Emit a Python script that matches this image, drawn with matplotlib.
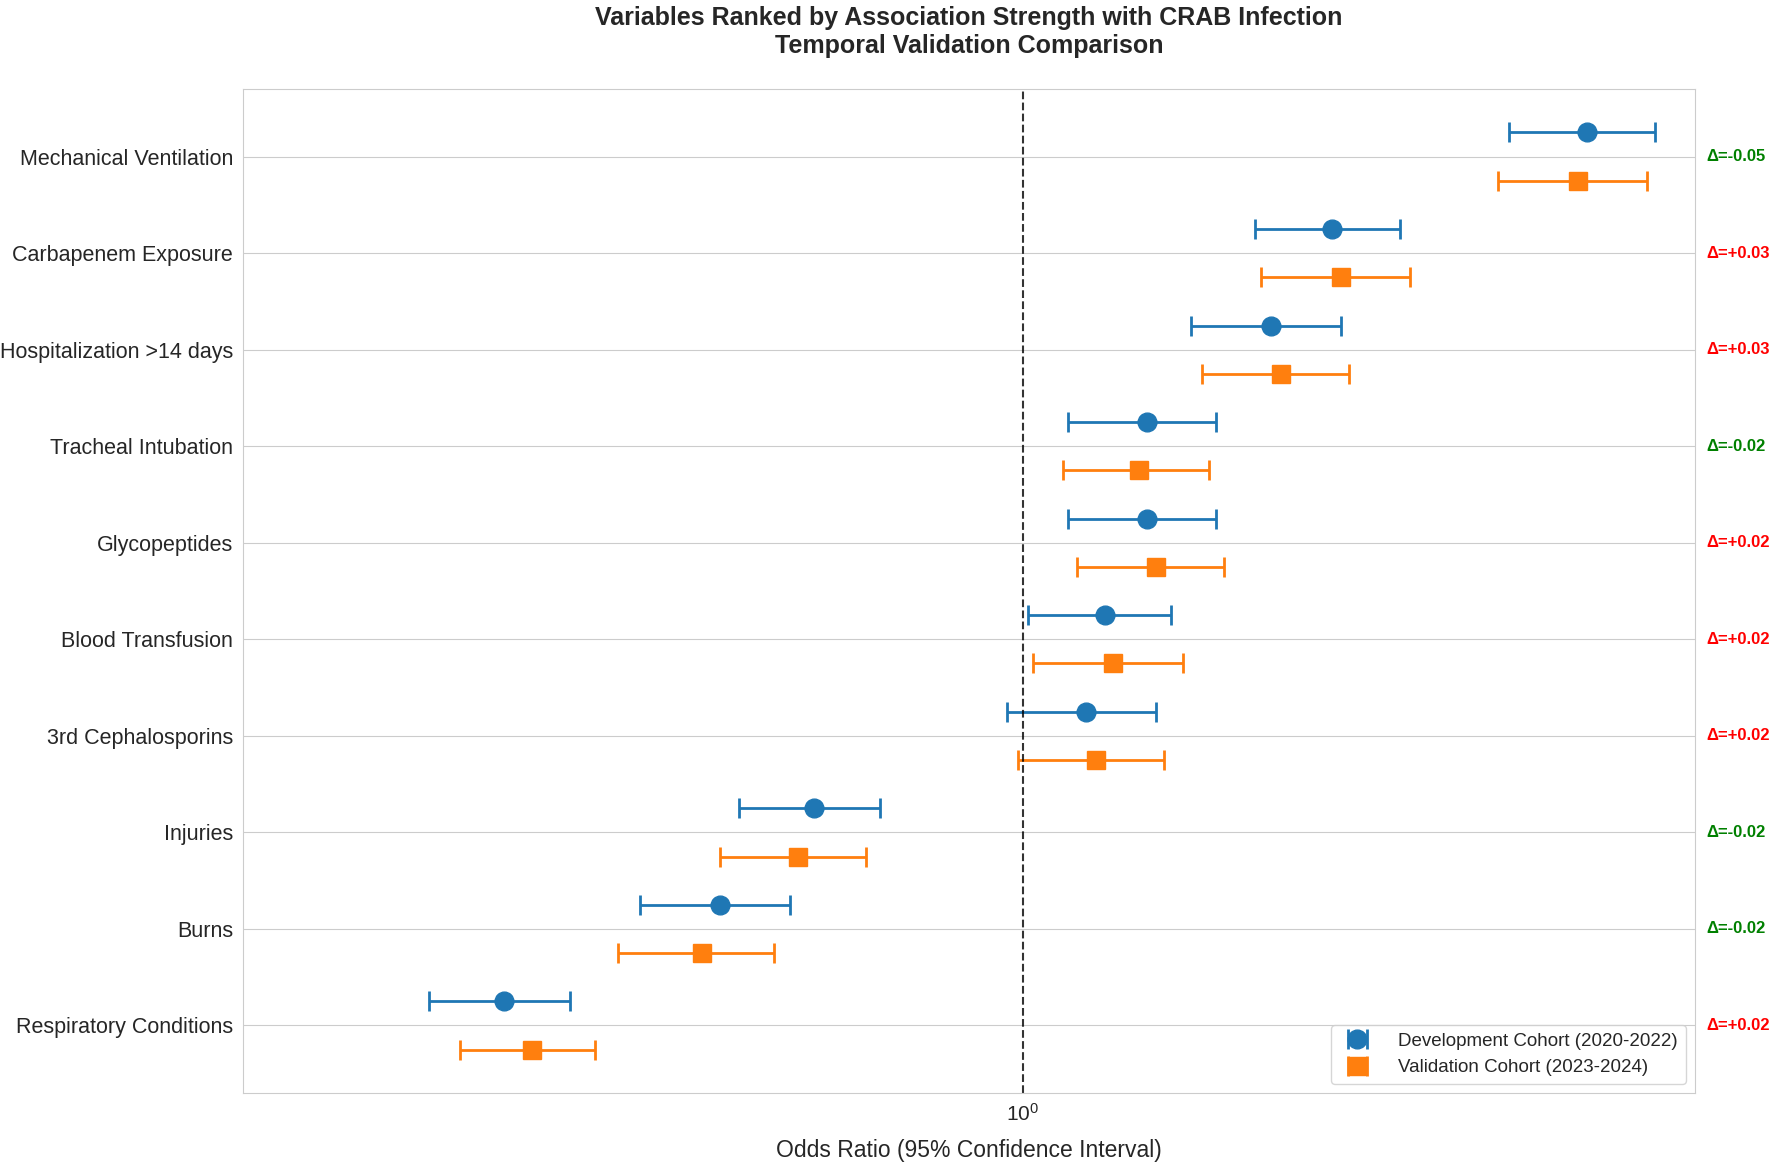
import matplotlib
matplotlib.use("Agg")
import matplotlib.pyplot as plt
import numpy as np
import seaborn as sns

sns.set_style("whitegrid")
plt.rcParams['font.family'] = ['Liberation Sans', 'DejaVu Sans']

variables = ['Mechanical Ventilation', 'Carbapenem Exposure', 'Hospitalization >14 days',
             'Tracheal Intubation', 'Glycopeptides', 'Blood Transfusion',
             '3rd Cephalosporins', 'Injuries', 'Burns', 'Respiratory Conditions']

# development cohort (2020-2022)
dev_or = [2.95, 1.81, 1.61, 1.27, 1.27, 1.17, 1.13, 0.67, 0.56, 0.37]
dev_low = [2.54, 1.56, 1.38, 1.09, 1.09, 1.01, 0.97, 0.58, 0.48, 0.32]
dev_high = [3.36, 2.06, 1.84, 1.45, 1.45, 1.33, 1.29, 0.76, 0.64, 0.42]

# validation cohort (2023-2024)
val_or = [2.90, 1.84, 1.64, 1.25, 1.29, 1.19, 1.15, 0.65, 0.54, 0.39]
val_low = [2.49, 1.58, 1.41, 1.08, 1.11, 1.02, 0.99, 0.56, 0.46, 0.34]
val_high = [3.31, 2.10, 1.87, 1.43, 1.47, 1.36, 1.31, 0.74, 0.62, 0.44]

y = np.arange(len(variables))
dev_or = np.array(dev_or)
val_or = np.array(val_or)

fig = plt.figure(figsize=(17.72, 11.67), dpi=100)
ax = fig.add_axes([0.137, 0.0634, 0.8195, 0.8603])

ax.errorbar(dev_or, y - 0.25,
            xerr=[dev_or - np.array(dev_low), np.array(dev_high) - dev_or],
            fmt='o', color='#1f77b4', ms=13.5, elinewidth=2, capsize=7, capthick=2,
            label='Development Cohort (2020-2022)')
ax.errorbar(val_or, y + 0.25,
            xerr=[val_or - np.array(val_low), np.array(val_high) - val_or],
            fmt='s', color='#ff7f0e', ms=13.5, elinewidth=2, capsize=7, capthick=2,
            label='Validation Cohort (2023-2024)')

ax.axvline(1, color='black', linestyle='--', linewidth=1.5, alpha=0.8)

ax.set_xscale('log')
ax.set_xlim(0.224, 3.63)
ax.set_ylim(9.7, -0.7)
ax.set_yticks(y)
ax.set_yticklabels(variables, fontsize=15.5)
ax.tick_params(axis='x', labelsize=15)
ax.grid(axis='x', which='both', visible=False)

for i in range(len(variables)):
    d = val_or[i] - dev_or[i]
    col = 'green' if d < 0 else 'red'
    ax.text(1.008, i, f'Δ={d:+.2f}', transform=ax.get_yaxis_transform(),
            color=col, fontsize=12, fontweight='bold', va='center', ha='left')

ax.set_xlabel('Odds Ratio (95% Confidence Interval)', fontsize=16.5, labelpad=10)
ax.set_title('Variables Ranked by Association Strength with CRAB Infection\nTemporal Validation Comparison',
             fontsize=18, fontweight='bold', pad=26)
ax.legend(loc='lower right', fontsize=13.5, frameon=True, handletextpad=1.2)

plt.savefig('out.png', dpi=100)
